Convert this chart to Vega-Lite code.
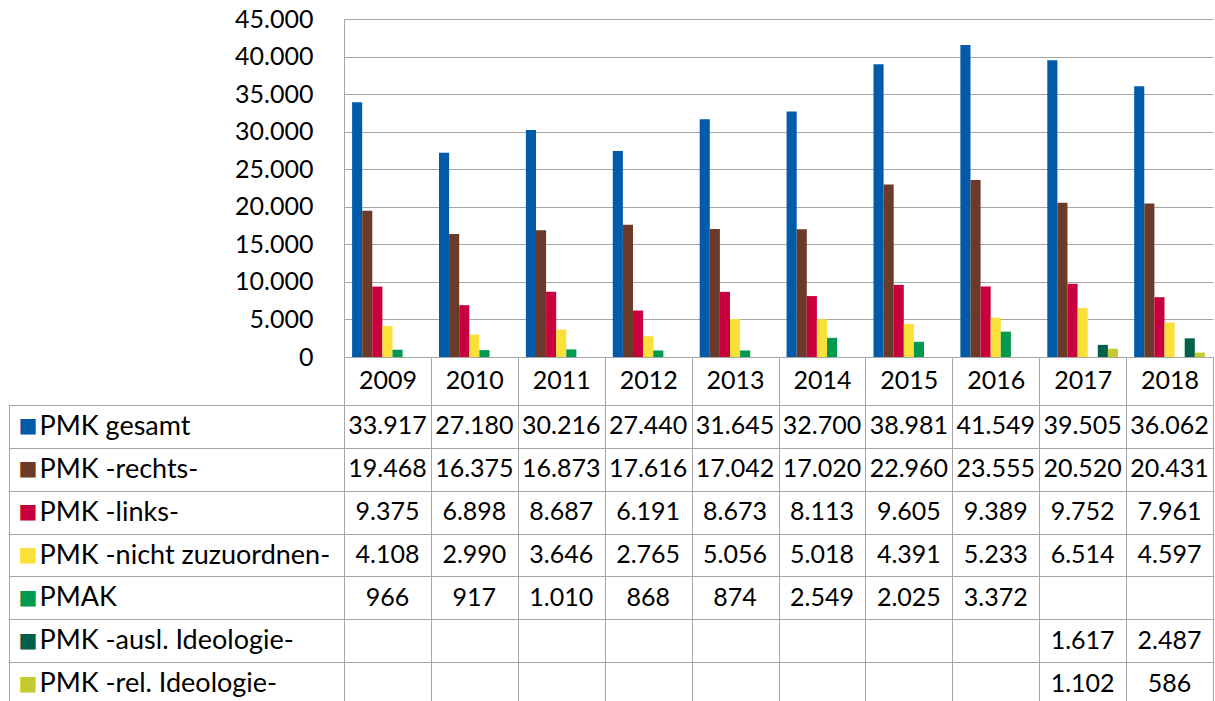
{
  "$schema": "https://vega.github.io/schema/vega-lite/v6.json",
  "padding": {"left": 8, "top": 7, "right": 0, "bottom": 0},
  "config": {
    "locale": {"number": {"decimal": ",", "thousands": ".", "grouping": [3], "currency": ["", " €"]}},
    "view": {"stroke": null},
    "font": "Lato"
  },
  "datasets": {
    "pmk": [
      {"year": "2009", "series": "PMK gesamt", "value": 33917},
      {"year": "2010", "series": "PMK gesamt", "value": 27180},
      {"year": "2011", "series": "PMK gesamt", "value": 30216},
      {"year": "2012", "series": "PMK gesamt", "value": 27440},
      {"year": "2013", "series": "PMK gesamt", "value": 31645},
      {"year": "2014", "series": "PMK gesamt", "value": 32700},
      {"year": "2015", "series": "PMK gesamt", "value": 38981},
      {"year": "2016", "series": "PMK gesamt", "value": 41549},
      {"year": "2017", "series": "PMK gesamt", "value": 39505},
      {"year": "2018", "series": "PMK gesamt", "value": 36062},
      {"year": "2009", "series": "PMK -rechts-", "value": 19468},
      {"year": "2010", "series": "PMK -rechts-", "value": 16375},
      {"year": "2011", "series": "PMK -rechts-", "value": 16873},
      {"year": "2012", "series": "PMK -rechts-", "value": 17616},
      {"year": "2013", "series": "PMK -rechts-", "value": 17042},
      {"year": "2014", "series": "PMK -rechts-", "value": 17020},
      {"year": "2015", "series": "PMK -rechts-", "value": 22960},
      {"year": "2016", "series": "PMK -rechts-", "value": 23555},
      {"year": "2017", "series": "PMK -rechts-", "value": 20520},
      {"year": "2018", "series": "PMK -rechts-", "value": 20431},
      {"year": "2009", "series": "PMK -links-", "value": 9375},
      {"year": "2010", "series": "PMK -links-", "value": 6898},
      {"year": "2011", "series": "PMK -links-", "value": 8687},
      {"year": "2012", "series": "PMK -links-", "value": 6191},
      {"year": "2013", "series": "PMK -links-", "value": 8673},
      {"year": "2014", "series": "PMK -links-", "value": 8113},
      {"year": "2015", "series": "PMK -links-", "value": 9605},
      {"year": "2016", "series": "PMK -links-", "value": 9389},
      {"year": "2017", "series": "PMK -links-", "value": 9752},
      {"year": "2018", "series": "PMK -links-", "value": 7961},
      {"year": "2009", "series": "PMK -nicht zuzuordnen-", "value": 4108},
      {"year": "2010", "series": "PMK -nicht zuzuordnen-", "value": 2990},
      {"year": "2011", "series": "PMK -nicht zuzuordnen-", "value": 3646},
      {"year": "2012", "series": "PMK -nicht zuzuordnen-", "value": 2765},
      {"year": "2013", "series": "PMK -nicht zuzuordnen-", "value": 5056},
      {"year": "2014", "series": "PMK -nicht zuzuordnen-", "value": 5018},
      {"year": "2015", "series": "PMK -nicht zuzuordnen-", "value": 4391},
      {"year": "2016", "series": "PMK -nicht zuzuordnen-", "value": 5233},
      {"year": "2017", "series": "PMK -nicht zuzuordnen-", "value": 6514},
      {"year": "2018", "series": "PMK -nicht zuzuordnen-", "value": 4597},
      {"year": "2009", "series": "PMAK", "value": 966},
      {"year": "2010", "series": "PMAK", "value": 917},
      {"year": "2011", "series": "PMAK", "value": 1010},
      {"year": "2012", "series": "PMAK", "value": 868},
      {"year": "2013", "series": "PMAK", "value": 874},
      {"year": "2014", "series": "PMAK", "value": 2549},
      {"year": "2015", "series": "PMAK", "value": 2025},
      {"year": "2016", "series": "PMAK", "value": 3372},
      {"year": "2017", "series": "PMK -ausl. Ideologie-", "value": 1617},
      {"year": "2018", "series": "PMK -ausl. Ideologie-", "value": 2487},
      {"year": "2017", "series": "PMK -rel. Ideologie-", "value": 1102},
      {"year": "2018", "series": "PMK -rel. Ideologie-", "value": 586}
    ]
  },
  "vconcat": [
    {
      "width": 869,
      "height": 338,
      "data": {"name": "pmk"},
      "mark": {"type": "bar"},
      "encoding": {
        "x": {
          "field": "year", "type": "ordinal",
          "scale": {"paddingInner": 0, "paddingOuter": 0},
          "axis": {
            "title": null, "orient": "bottom", "labelAngle": 0,
            "labelFont": "Lato", "labelFontSize": 25, "labelColor": "black",
            "tickBand": "extent", "ticks": true, "tickSize": 48, "tickColor": "#A6A6A6",
            "domain": true, "domainColor": "#A6A6A6", "grid": false,
            "labelBaseline": "middle", "labelPadding": -25
          }
        },
        "xOffset": {
          "field": "series", "type": "nominal",
          "scale": {
            "domain": ["PMK gesamt", "PMK -rechts-", "PMK -links-", "PMK -nicht zuzuordnen-", "PMAK", "PMK -ausl. Ideologie-", "PMK -rel. Ideologie-"],
            "paddingInner": 0, "paddingOuter": 0.8
          }
        },
        "y": {
          "field": "value", "type": "quantitative",
          "scale": {"domain": [0, 45000], "nice": false},
          "axis": {
            "title": null,
            "values": [0, 5000, 10000, 15000, 20000, 25000, 30000, 35000, 40000, 45000],
            "format": ",d", "grid": true, "gridColor": "#A6A6A6", "ticks": false,
            "domain": true, "domainColor": "#A6A6A6",
            "labelFont": "Lato", "labelFontSize": 25, "labelColor": "black", "labelPadding": 31
          }
        },
        "color": {
          "field": "series", "type": "nominal",
          "scale": {
            "domain": ["PMK gesamt", "PMK -rechts-", "PMK -links-", "PMK -nicht zuzuordnen-", "PMAK", "PMK -ausl. Ideologie-", "PMK -rel. Ideologie-"],
            "range": ["#005CAB", "#6B3A29", "#C8003D", "#FBE03A", "#009A4E", "#00604A", "#C3CB30"]
          },
          "legend": null
        }
      }
    },
    {
      "width": 869,
      "height": 300,
      "data": {"name": "pmk"},
      "layer": [
        {
          "mark": {"type": "text", "font": "Lato", "fontSize": 25, "color": "black", "align": "center", "baseline": "middle"},
          "encoding": {
            "x": {
              "field": "year", "type": "ordinal",
              "scale": {"paddingInner": 0, "paddingOuter": 0},
              "axis": {"title": null, "orient": "top", "grid": true, "tickBand": "extent", "gridColor": "#A6A6A6", "labels": false, "ticks": false, "domain": false}
            },
            "y": {
              "field": "series", "type": "nominal",
              "scale": {
                "domain": ["PMK gesamt", "PMK -rechts-", "PMK -links-", "PMK -nicht zuzuordnen-", "PMAK", "PMK -ausl. Ideologie-", "PMK -rel. Ideologie-"],
                "paddingInner": 0, "paddingOuter": 0
              },
              "axis": {
                "title": null, "orient": "left", "grid": true, "tickBand": "extent", "gridColor": "#A6A6A6",
                "ticks": true, "tickSize": 335, "tickColor": "#A6A6A6", "domain": false,
                "labelAlign": "left", "labelPadding": -30, "labelFont": "Lato", "labelFontSize": 27,
                "labelColor": "black", "labelLimit": 0
              }
            },
            "text": {"field": "value", "type": "quantitative", "format": ",d"}
          }
        },
        {
          "mark": {"type": "rect", "opacity": 0},
          "encoding": {
            "x": {"field": "year", "type": "ordinal"},
            "y": {
              "field": "series", "type": "nominal",
              "axis": {
                "title": null, "orient": "left", "offset": 335, "domain": true, "domainColor": "#A6A6A6",
                "ticks": false, "grid": false, "labelExpr": "'■'", "labelAlign": "left",
                "labelPadding": -9, "labelFont": "DejaVu Sans", "labelFontSize": 20,
                "labelColor": {
                  "condition": [
                    {"test": "datum.value === 'PMK gesamt'", "value": "#005CAB"},
                    {"test": "datum.value === 'PMK -rechts-'", "value": "#6B3A29"},
                    {"test": "datum.value === 'PMK -links-'", "value": "#C8003D"},
                    {"test": "datum.value === 'PMK -nicht zuzuordnen-'", "value": "#FBE03A"},
                    {"test": "datum.value === 'PMAK'", "value": "#009A4E"},
                    {"test": "datum.value === 'PMK -ausl. Ideologie-'", "value": "#00604A"}
                  ],
                  "value": "#C3CB30"
                }
              }
            }
          }
        }
      ],
      "resolve": {"axis": {"y": "independent"}}
    }
  ],
  "spacing": 48,
  "bounds": "flush"
}
